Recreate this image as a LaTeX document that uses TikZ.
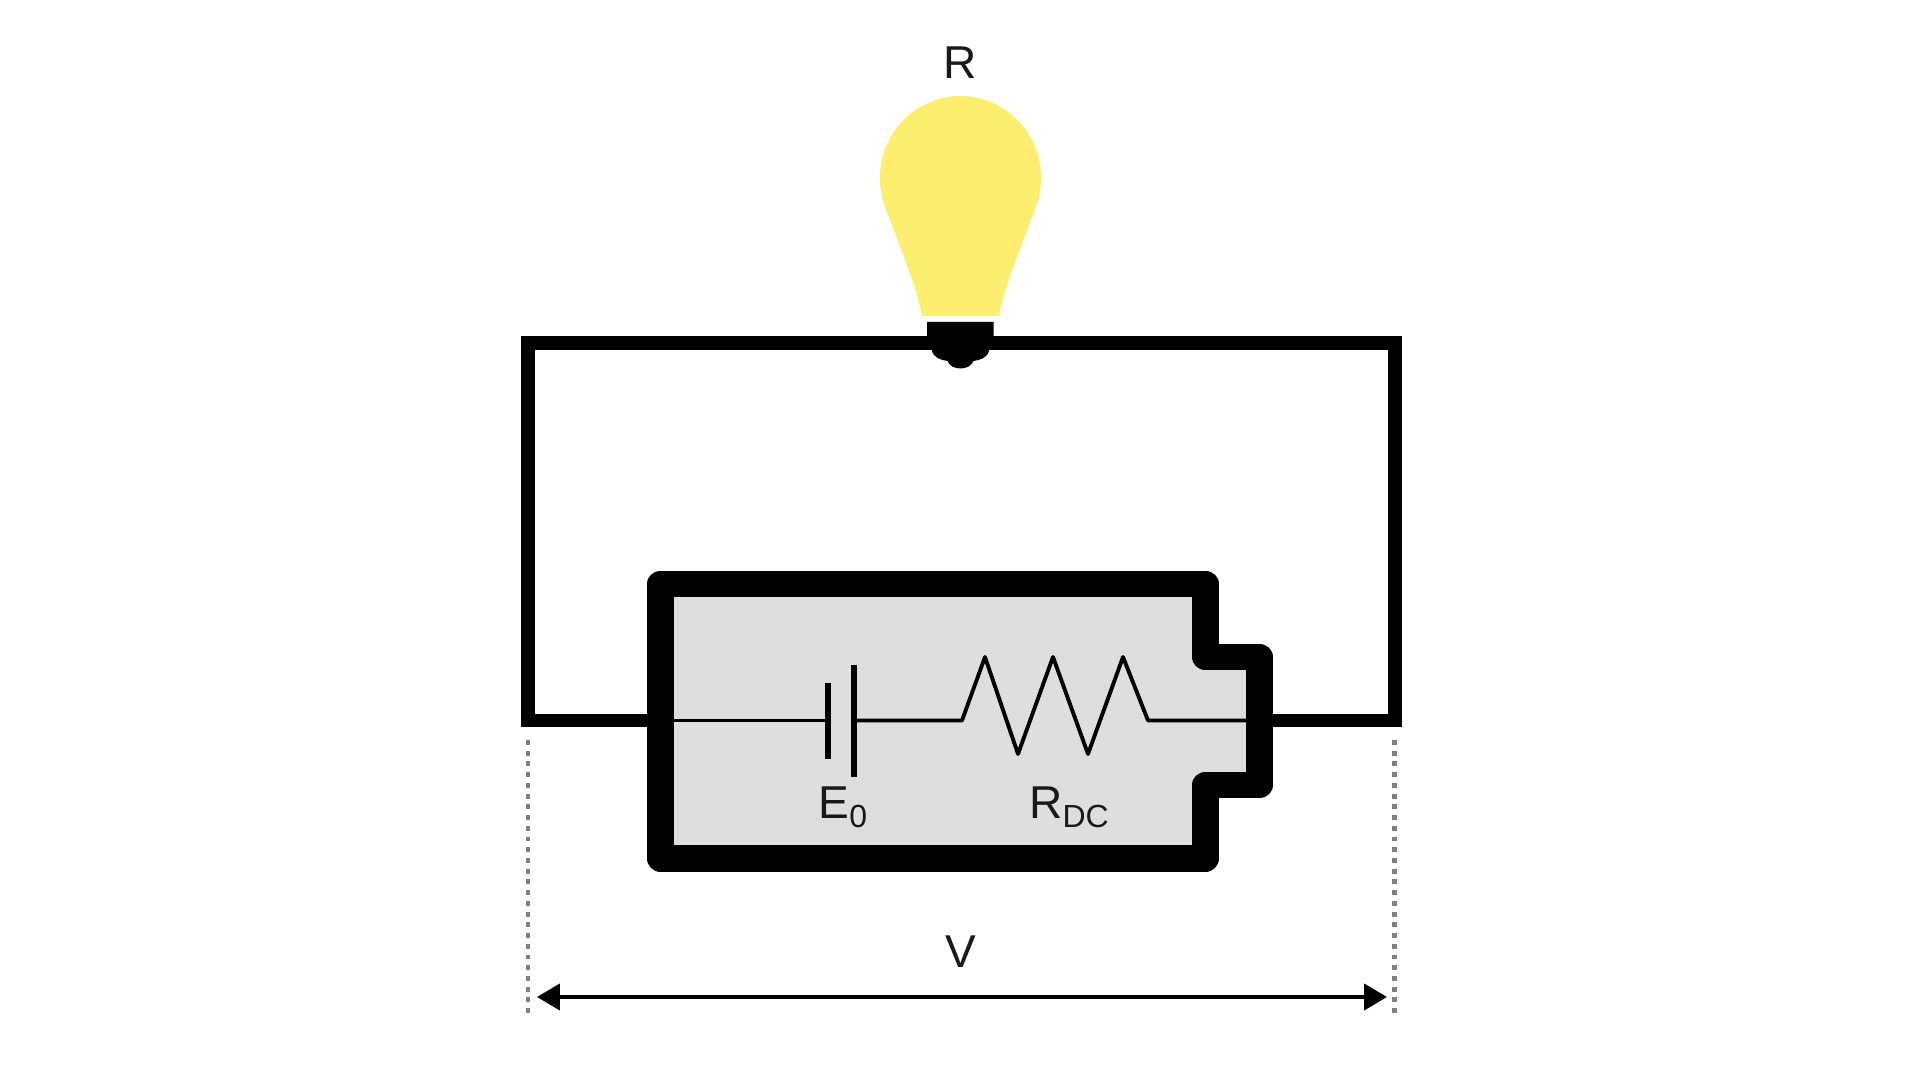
\documentclass[tikz,border=0pt]{standalone}
\usepackage{fontspec}
\setmainfont{Liberation Sans}
\usetikzlibrary{arrows.meta}
\definecolor{bulbyellow}{HTML}{FDEE6F}
\definecolor{cellgray}{HTML}{DEDEDE}
\newcommand{\lowsub}[1]{\raisebox{-2.3pt}{\fontsize{9.1}{10}\selectfont #1}}
\tikzstyle{txt} = [inner sep=0pt, anchor=base, font=\fontsize{13.1}{15}\selectfont, text=black!90]
\tikzstyle{wire} = [line width=3.9pt, draw=black]
\tikzstyle{cell} = [line width=7.6pt, draw=black, fill=cellgray, line join=round]
\tikzstyle{inner} = [line width=1.1pt, draw=black, line join=round]
\tikzstyle{plate} = [line width=1.6pt, draw=black]
\tikzstyle{guide} = [line width=1.4pt, draw=black!50, dash pattern=on 1.4pt off 1.65pt]
\tikzstyle{arrow} = [line width=1.1pt, draw=black, {Triangle[length=6.5pt,width=7.4pt]}-{Triangle[length=6.5pt,width=7.4pt]}]
\begin{document}
\begin{tikzpicture}[x=0.01cm, y=-0.01cm]
\useasboundingbox (0,0) rectangle (1920,1080);

\coordinate (wiretl) at (528,343);
\coordinate (wiretr) at (1395,343);
\coordinate (wirebl) at (528,720.5);
\coordinate (wirebr) at (1395,720.5);
\coordinate (cellin) at (660,720.5);
\coordinate (cellout) at (1259,720.5);
\coordinate (platea) at (828,720.5);
\coordinate (plateb) at (854,720.5);
\coordinate (resin) at (962,720.5);
\coordinate (resout) at (1148,720.5);
\coordinate (guidela) at (528,740);
\coordinate (guidelb) at (528,1014);
\coordinate (guidera) at (1394.5,740);
\coordinate (guiderb) at (1394.5,1014);
\coordinate (arrowl) at (537,997);
\coordinate (arrowr) at (1387,997);

\draw [wire] (cellin) -- (wirebl) -- (wiretl) -- (wiretr) -- (wirebr) -- (cellout);

\draw [cell] (660.5,584) -- (1205.5,584) -- (1205.5,657) -- (1259.5,657) -- (1259.5,785) -- (1205.5,785) -- (1205.5,858.5) -- (660.5,858.5) -- cycle;

\draw [inner] (cellin) -- (platea);
\draw [inner] (plateb) -- (resin) -- (985,657) -- (1018,754) -- (1053,657) -- (1088,754) -- (1123,657) -- (resout) -- (cellout);
\draw [plate] (828,683) -- (828,759);
\draw [plate] (854,665) -- (854,777);

\fill [bulbyellow] (922,316) .. controls (919,300) and (915,287) .. (908,268) -- (884,204) .. controls (881,195) and (880,186) .. (880,177) .. controls (880,133) and (916,96) .. (960.5,96) .. controls (1005,96) and (1041,133) .. (1041,177) .. controls (1041,186) and (1040,195) .. (1037,204) -- (1013,268) .. controls (1006,287) and (1002,300) .. (999,316) -- cycle;
\fill [black] (927,322) -- (993.5,322) -- (993.5,336) -- (989,351) .. controls (987,358) and (980,360) .. (973.5,361) .. controls (970,371) and (951,371) .. (947.5,361) .. controls (941,360) and (934,358) .. (932,351) -- (927,336) -- cycle;

\draw [guide] (guidela) -- (guidelb);
\draw [guide] (guidera) -- (guiderb);
\draw [arrow] (arrowl) -- (arrowr);

\node (lampname) [txt] at (960.5,79) {R};
\node (cellemf) [txt] at (843,819) {E\lowsub{0}};
\node (cellres) [txt] at (1069,819) {R\lowsub{DC}};
\node (voltage) [txt] at (960.5,968) {V};
\end{tikzpicture}
\end{document}
